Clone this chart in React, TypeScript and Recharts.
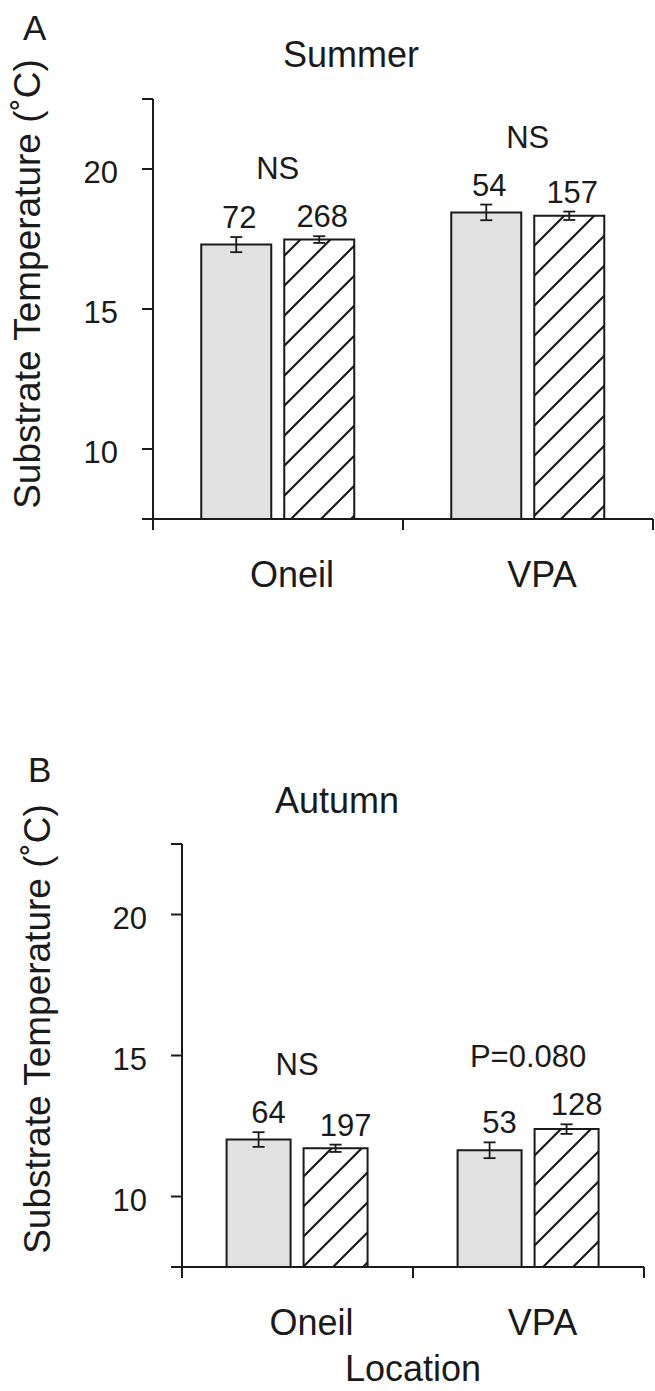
import React from 'react';
import { Bar, BarChart, ErrorBar, LabelList, XAxis, YAxis } from 'recharts';

const FONT = '"Liberation Sans", Arial, Helvetica, sans-serif';
const INK = '#1a1a1a';
const GREY = '#e1e1e1';
const Y_MIN = 7.5;
const Y_MAX = 22.5;
const BAR_GAP = 13;

const sites = ['Oneil', 'VPA'];
const yTickLabels = [10, 15, 20];

// Summer (panel A)
const summerGrey = [17.3, 18.45];
const summerGreyErr = [0.27, 0.28];
const summerHatched = [17.48, 18.33];
const summerHatchedErr = [0.12, 0.15];
const summerGreyN = [72, 54];
const summerHatchedN = [268, 157];
const summerNotes = ['NS', 'NS'];

// Autumn (panel B)
const autumnGrey = [12.02, 11.64];
const autumnGreyErr = [0.26, 0.28];
const autumnHatched = [11.71, 12.39];
const autumnHatchedErr = [0.13, 0.17];
const autumnGreyN = [64, 53];
const autumnHatchedN = [197, 128];
const autumnNotes = ['NS', 'P=0.080'];

type Row = {
  site: string;
  grey: number;
  greyErr: number;
  hatched: number;
  hatchedErr: number;
  greyN: number;
  hatchedN: number;
  note: string;
};

function makeRows(
  grey: number[],
  greyErr: number[],
  hatched: number[],
  hatchedErr: number[],
  greyN: number[],
  hatchedN: number[],
  notes: string[]
): Row[] {
  return sites.map((site, i) => ({
    site,
    grey: grey[i],
    greyErr: greyErr[i],
    hatched: hatched[i],
    hatchedErr: hatchedErr[i],
    greyN: greyN[i],
    hatchedN: hatchedN[i],
    note: notes[i],
  }));
}

const summerRows = makeRows(summerGrey, summerGreyErr, summerHatched, summerHatchedErr, summerGreyN, summerHatchedN, summerNotes);
const autumnRows = makeRows(autumnGrey, autumnGreyErr, autumnHatched, autumnHatchedErr, autumnGreyN, autumnHatchedN, autumnNotes);

// n above each bar, sitting just over the error bar cap
function countLabel(means: number[], errs: number[], dx: number) {
  return (props: any) => {
    const vb = props.viewBox ?? props;
    const { x, y, width, height } = vb;
    const i = props.index ?? 0;
    const ppu = height / (means[i] - Y_MIN);
    const top = y - errs[i] * ppu;
    return (
      <text x={x + width / 2 + dx} y={top - 9} textAnchor="middle" fontSize={31} fill={INK}>
        {props.value}
      </text>
    );
  };
}

// NS / P value centred over the pair
function noteLabel(rows: Row[]) {
  return (props: any) => {
    const vb = props.viewBox ?? props;
    const { x, y, height } = vb;
    const r = rows[props.index ?? 0];
    const ppu = height / (r.hatched - Y_MIN);
    const hatchTop = y - r.hatchedErr * ppu;
    const greyTop = y - (r.grey + r.greyErr - r.hatched) * ppu;
    const top = Math.min(hatchTop, greyTop);
    return (
      <text x={x - BAR_GAP / 2} y={top - 57} textAnchor="middle" fontSize={31} fill={INK}>
        {props.value}
      </text>
    );
  };
}

const CategoryTick = (props: any) => {
  const { x, y, payload, index, visibleTicksCount, band } = props;
  const half = payload?.offset ? payload.offset : band / 2;
  const last = index === (visibleTicksCount ?? sites.length) - 1;
  return (
    <g>
      <line x1={x - half} y1={y - 11} x2={x - half} y2={y} stroke={INK} strokeWidth={2} />
      {last && <line x1={x + half} y1={y - 11} x2={x + half} y2={y} stroke={INK} strokeWidth={2} />}
      <text x={x + 14} y={y + 57} textAnchor="middle" fontSize={36} fill={INK}>
        {payload.value}
      </text>
    </g>
  );
};

const YTitle = ({ x0, cy }: { x0: number; cy: number }) => (
  <text x={x0} y={cy} transform={`rotate(-90 ${x0} ${cy})`} textAnchor="middle" fontSize={37} fill={INK}>
    Substrate Temperature (˚C)
  </text>
);

interface PanelProps {
  rows: Row[];
  top: number;
  height: number;
  yAxisWidth: number;
  xAxisHeight: number;
  margin: { top: number; right: number; bottom: number; left: number };
  titleX: number;
  titleCy: number;
  countDx: number;
  hatchId: string;
  showLocation?: boolean;
}

function Panel({ rows, top, height, yAxisWidth, xAxisHeight, margin, titleX, titleCy, countDx, hatchId, showLocation }: PanelProps) {
  const width = 655;
  const band = (width - margin.left - margin.right - yAxisWidth) / rows.length;
  return (
    <div style={{ position: 'absolute', left: 0, top }}>
      <BarChart
        width={width}
        height={height}
        data={rows}
        margin={margin}
        barCategoryGap="19.3%"
        barGap={BAR_GAP}
      >
        <defs>
          <pattern id={hatchId} patternUnits="userSpaceOnUse" width={30} height={30}>
            <rect width={30} height={30} fill="#ffffff" />
            <path d="M-3,3 L3,-3 M0,30 L30,0 M27,33 L33,27" stroke={INK} strokeWidth={2.2} />
          </pattern>
        </defs>
        <XAxis
          dataKey="site"
          height={xAxisHeight}
          axisLine={{ stroke: INK, strokeWidth: 2 }}
          tickLine={false}
          tickSize={11}
          tickMargin={0}
          interval={0}
          tick={<CategoryTick band={band} />}
          label={showLocation ? { value: 'Location', position: 'insideBottom', offset: 10, fontSize: 36, fill: INK } : undefined}
        />
        <YAxis
          type="number"
          domain={[Y_MIN, Y_MAX]}
          ticks={[Y_MIN, ...yTickLabels, Y_MAX]}
          tickFormatter={(v: number) => (yTickLabels.includes(v) ? String(v) : '')}
          interval={0}
          width={yAxisWidth}
          axisLine={{ stroke: INK, strokeWidth: 2 }}
          tickLine={{ stroke: INK, strokeWidth: 2 }}
          tickSize={11}
          tickMargin={24}
          tick={{ fontSize: 31, fill: INK, dy: 3 }}
          label={<YTitle x0={titleX} cy={titleCy} />}
        />
        <Bar dataKey="grey" fill={GREY} stroke={INK} strokeWidth={2} isAnimationActive={false}>
          <ErrorBar dataKey="greyErr" width={6} stroke={INK} strokeWidth={1.8} direction="y" isAnimationActive={false} />
          <LabelList
            dataKey="greyN"
            content={countLabel(rows.map((r) => r.grey), rows.map((r) => r.greyErr), countDx)}
          />
        </Bar>
        <Bar dataKey="hatched" fill={`url(#${hatchId})`} stroke={INK} strokeWidth={2} isAnimationActive={false}>
          <ErrorBar dataKey="hatchedErr" width={6} stroke={INK} strokeWidth={1.8} direction="y" isAnimationActive={false} />
          <LabelList
            dataKey="hatchedN"
            content={countLabel(rows.map((r) => r.hatched), rows.map((r) => r.hatchedErr), countDx)}
          />
          <LabelList dataKey="note" content={noteLabel(rows)} />
        </Bar>
      </BarChart>
    </div>
  );
}

export default function App() {
  return (
    <div
      style={{
        position: 'absolute',
        left: 0,
        top: 0,
        width: 655,
        height: 1391,
        background: '#ffffff',
        fontFamily: FONT,
        overflow: 'hidden',
      }}
    >
      <Panel
        rows={summerRows}
        top={0}
        height={620}
        yAxisWidth={153}
        xAxisHeight={80}
        margin={{ top: 99, right: 2, bottom: 21, left: 0 }}
        titleX={40}
        titleCy={284}
        countDx={3}
        hatchId="hatchSummer"
      />
      <Panel
        rows={autumnRows}
        top={700}
        height={691}
        yAxisWidth={182}
        xAxisHeight={124}
        margin={{ top: 144, right: 11, bottom: 0, left: 0 }}
        titleX={50}
        titleCy={329}
        countDx={10}
        hatchId="hatchAutumn"
        showLocation
      />
      <svg width={655} height={1391} style={{ position: 'absolute', left: 0, top: 0, pointerEvents: 'none' }}>
        <text x={23} y={40} fontSize={35} fill={INK}>A</text>
        <text x={351} y={67} textAnchor="middle" fontSize={36} fill={INK}>Summer</text>
        <text x={28} y={782} fontSize={35} fill={INK}>B</text>
        <text x={337} y={813} textAnchor="middle" fontSize={36} fill={INK}>Autumn</text>
      </svg>
    </div>
  );
}
